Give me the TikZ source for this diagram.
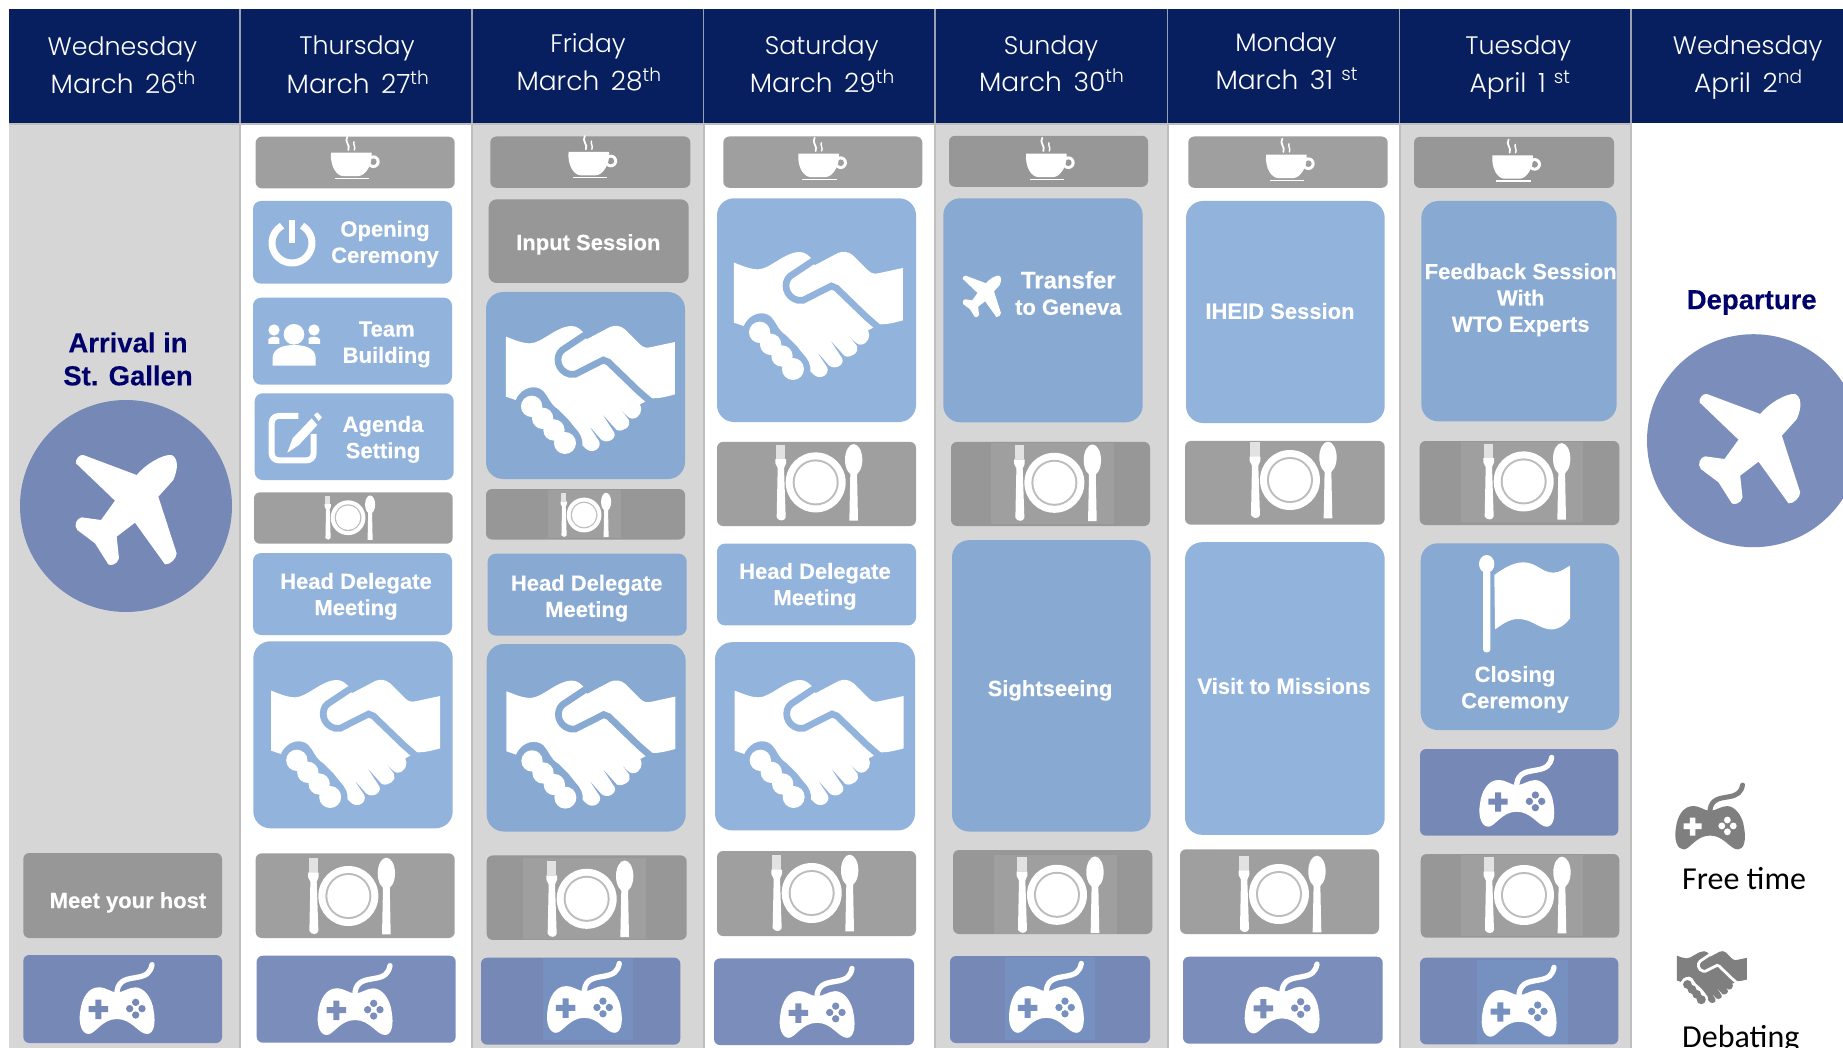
\documentclass[tikz,border=0pt]{standalone}
\usepackage{fontspec}
\setmainfont{Liberation Sans}[BoldFeatures={FakeBold=0.25}]
\newfontfamily\hdrfont{Poppins}[UprightFont=* Light,WordSpace=1.6]
\newfontfamily\lgfont{Carlito}
\definecolor{hdrblue}{HTML}{071F5F}
\definecolor{colgrey}{HTML}{D6D6D6}
\definecolor{seplight}{HTML}{BFBFBF}
\definecolor{sephdr}{HTML}{9AA1B5}
\definecolor{bluW}{HTML}{92B3DB}
\definecolor{bluG}{HTML}{87A9D2}
\definecolor{gryW}{HTML}{9F9F9F}
\definecolor{gryG}{HTML}{979797}
\definecolor{indW}{HTML}{7B8DBB}
\definecolor{indG}{HTML}{7588B6}
\definecolor{patchI}{HTML}{7690C0}
\definecolor{navytxt}{HTML}{00006B}
\definecolor{legend}{HTML}{7F7F7F}
\tikzset{
  smallbox/.style={rectangle,rounded corners=6pt,inner sep=0pt,outer sep=0pt,anchor=north west},
  midbox/.style={rectangle,rounded corners=8pt,inner sep=0pt,outer sep=0pt,anchor=north west},
  bigbox/.style={rectangle,rounded corners=17pt,inner sep=0pt,outer sep=0pt,anchor=north west},
  boxtext/.style={text=white,font=\bfseries\fontsize{22}{26.3}\selectfont,align=center,inner sep=0pt},
  dayname/.style={text=white,font=\hdrfont\fontsize{25.3}{30}\selectfont,anchor=base,inner sep=0pt},
  daydate/.style={text=white,font=\hdrfont\fontsize{26.5}{30}\selectfont,anchor=base,inner sep=0pt},
  navyhead/.style={text=navytxt,font=\bfseries\fontsize{27.5}{33}\selectfont,align=center,inner sep=0pt},
  legendtext/.style={text=black,font=\lgfont\fontsize{32}{36}\selectfont,anchor=base west,inner sep=0pt}
}
% box: name x1 y1 x2 y2 style
\newcommand{\bx}[6]{\pgfmathsetmacro\bxw{#4-#2}\pgfmathsetmacro\bxh{#5-#3}%
  \node[#6,minimum width=\bxw pt,minimum height=\bxh pt] (#1) at (#2,#3) {};}
\newcommand{\tx}[4]{\node[boxtext] (#1) at (#2,#3) {#4};}
\newcommand{\shakeicon}[5]{%
\begin{scope}[shift={(#1,#2)},scale=#3/3,shift={(-346,-342)}]
\fill[#4] (93,182) .. controls (115,190) and (140,202) .. (165,202)
 .. controls (200,202) and (245,150) .. (290,150)
 .. controls (305,150) and (318,160) .. (327,172) -- (335,190) -- (405,153)
 .. controls (420,147) and (435,148) .. (450,160) -- (495,205)
 .. controls (505,215) and (515,217) .. (530,213) -- (600,198) -- (600,355)
 .. controls (575,362) and (550,368) .. (530,367) -- (495,385)
 .. controls (505,400) and (495,428) .. (472,428) .. controls (462,428) and (455,420) .. (425,385)
 -- (462,432) .. controls (470,450) and (445,470) .. (425,462) -- (380,412)
 -- (418,470) .. controls (425,490) and (395,505) .. (378,490) -- (340,447)
 -- (372,495) .. controls (382,515) and (355,535) .. (335,520) -- (322,508)
 .. controls (325,490) and (315,470) .. (300,455) -- (280,430) -- (250,400)
 .. controls (225,385) and (220,360) .. (205,345) .. controls (185,325) and (140,330) .. (122,372)
 -- (93,362) -- cycle;
\draw[#5,line width=#3*6.7pt,line cap=round] (328,178) -- (262,222) .. controls (240,240) and (245,285) .. (285,295)
  -- (300,295) -- (385,252) -- (400,258) -- (490,345) -- (528,378);
\fill[#4] (170,391) circle[radius=32] (203,427) circle[radius=32] (237,462) circle[radius=32]
  (270,501) circle[radius=33];
\end{scope}}
\newcommand{\gameicon}[5]{%
\begin{scope}[shift={(#1,#2)},scale=#3/3,shift={(-350,-452)}]
\fill[#4] (295,420) .. controls (265,420) and (245,450) .. (240,490) .. controls (233,530) and (245,560) .. (265,560)
 .. controls (285,560) and (305,515) .. (350,515) .. controls (395,515) and (415,560) .. (440,560)
 .. controls (460,560) and (467,530) .. (460,490) .. controls (455,450) and (430,420) .. (405,420)
 .. controls (385,420) and (370,435) .. (350,435) .. controls (330,435) and (320,420) .. (295,420) -- cycle;
\draw[#4,line width=#3*5.3pt,line cap=round] (350,432) .. controls (355,395) and (385,395) .. (410,390)
 .. controls (440,385) and (450,375) .. (455,352);
\fill[#5] (265,476) rectangle (323,494) (285,457) rectangle (303,515);
\fill[#5] (406,465) circle[radius=11] (406,503) circle[radius=11] (388,484) circle[radius=11] (425,484) circle[radius=11];
\end{scope}}
\newcommand{\plateicon}[5]{%
\begin{scope}[shift={(#1,#2)},scale=#3/3,shift={(-382,-765)}]
\fill[#4,opacity=.7] (253,652) rectangle (281,695);
\fill[#4] (251,695) -- (283,695) -- (283,708) -- (277,722) -- (282,870) .. controls (279,882) and (261,882) .. (255,870) -- (258,722) -- (251,708) -- cycle;
\fill[#4] (372,765) circle[radius=90];
\fill[#5!70!white] (372,765) circle[radius=69];
\fill[#4] (372,765) circle[radius=63];
\fill[#4] (486,697) ellipse[x radius=26,y radius=47];
\fill[#4] (476,735) -- (496,735) -- (499,880) -- (473,880) -- cycle;
\end{scope}}
\newcommand{\cupicon}[5]{%
\begin{scope}[shift={(#1,#2)},scale=#3/3,shift={(-1065,-470)}]
\fill[#4] (1120,485) circle[radius=19];
\fill[#5] (1120,485) circle[radius=10];
\fill[#4] (993,458) -- (1115,458) .. controls (1118,495) and (1095,528) .. (1075,528) -- (1030,528) .. controls (1010,528) and (990,500) .. (993,458) -- cycle;
\fill[#4] (1005,533) rectangle (1108,537);
\draw[#4,line width=#3*1.8pt,line cap=round] (1042,410) .. controls (1032,425) and (1052,435) .. (1045,450);
\draw[#4,line width=#3*1.4pt,line cap=round] (1062,425) .. controls (1058,433) and (1068,440) .. (1063,450);
\end{scope}}
\newcommand{\planeicon}[4]{%
\begin{scope}[shift={(#1,#2)},scale=#3/3,shift={(-378,-378)}]
\fill[#4] (228,250) .. controls (225,240) and (238,222) .. (250,225) -- (410,285)
 .. controls (440,250) and (490,222) .. (515,225) .. controls (535,235) and (535,265) .. (520,300)
 -- (475,350) -- (530,520) .. controls (530,535) and (510,555) .. (495,553) -- (405,428)
 -- (350,470) -- (357,535) .. controls (352,555) and (330,558) .. (325,553) -- (285,490)
 -- (232,450) .. controls (220,435) and (230,415) .. (245,412) -- (303,420) -- (345,362) -- cycle;
\end{scope}}
\begin{document}
\begin{tikzpicture}[x=1pt,y=-1pt]
\useasboundingbox (0,0) rectangle (1843,1048);
\clip (0,0) rectangle (1843,1048);
\fill[white] (0,0) rectangle (1843,1048);
% column grounds
\fill[colgrey] (9,123) rectangle (240,1048);
\fill[colgrey] (472,123) rectangle (703,1048);
\fill[colgrey] (935,123) rectangle (1167,1048);
\fill[colgrey] (1399,123) rectangle (1631,1048);
\fill[seplight] (9,123) rectangle (1631,125.5);
\foreach \sx in {240,471.7,703.5,935,1167.5,1399.5,1631}{\draw[seplight,line width=2pt] (\sx,123) -- (\sx,1048);}
% header band
\fill[hdrblue] (9,9) rectangle (1843,123);
\foreach \sx in {240,471.7,703.5,935,1167.5,1399.5,1631}{\draw[sephdr,line width=1.6pt] (\sx,9) -- (\sx,123);}
% header texts
\node[dayname] (d1a) at (122.5,55.5) {Wednesday};
\node[daydate] (d1b) at (123.3,93.7) {March 26\textsuperscript{th}};
\node[dayname] (d2a) at (357,54.5) {Thursday};
\node[daydate] (d2b) at (358,93.7) {March 27\textsuperscript{th}};
\node[dayname] (d3a) at (588,52.7) {Friday};
\node[daydate] (d3b) at (589,91) {March 28\textsuperscript{th}};
\node[dayname] (d4a) at (821.7,54.5) {Saturday};
\node[daydate] (d4b) at (822.3,93) {March 29\textsuperscript{th}};
\node[dayname] (d5a) at (1051,54.5) {Sunday};
\node[daydate] (d5b) at (1051.7,92) {March 30\textsuperscript{th}};
\node[dayname] (d6a) at (1286,52) {Monday};
\node[daydate] (d6b) at (1286.7,89.4) {March 31\textsuperscript{ st}};
\node[dayname] (d7a) at (1518.3,54.5) {Tuesday};
\node[daydate] (d7b) at (1520,93) {April 1\textsuperscript{ st}};
\node[dayname] (d8a) at (1747.7,54.5) {Wednesday};
\node[daydate] (d8b) at (1748.3,93) {April 2\textsuperscript{nd}};
% column 1
\node[navyhead] (arrive) at (128,359) {Arrival in\\St. Gallen};
\fill[indG] (126,506) circle[radius=106];
\planeicon{126}{506}{1}{white}
\bx{host}{23.3}{853}{222}{938}{smallbox,fill=gryG}
\tx{hosttxt}{128}{902.4}{Meet your host}
\bx{c1g}{23.3}{955}{222}{1043}{smallbox,fill=indG}
\gameicon{117}{998}{1}{white}{indG}
% column 2
\bx{c2cup}{255.7}{136.7}{454.7}{188.3}{smallbox,fill=gryW}
\cupicon{355}{156.7}{1}{white}{gryW}
\bx{open}{253}{201}{452}{283.7}{midbox,fill=bluW}
\draw[white,line width=7pt] (302,225.7) arc[start angle=-60,end angle=240,radius=20];
\draw[white,line width=6.7pt] (292,220) -- (292,243);
\tx{opentxt}{385}{244}{Opening\\Ceremony}
\bx{team}{253}{297.7}{452}{384.7}{midbox,fill=bluW}
\begin{scope}[scale=1/3]
\fill[white] (882,1003) circle[radius=31];
\fill[white] (818,1097) -- (818,1072) .. controls (820,1045) and (850,1035) .. (882,1035) .. controls (915,1035) and (945,1045) .. (947,1072) -- (947,1097) -- cycle;
\fill[white] (822,990) circle[radius=17] (942,990) circle[radius=17];
\fill[white] (805,1032) -- (805,1018) .. controls (810,1008) and (835,1008) .. (838,1015) -- (838,1032) -- cycle;
\fill[white] (926,1015) .. controls (930,1008) and (955,1008) .. (960,1018) -- (960,1032) -- (926,1032) -- cycle;
\end{scope}
\tx{teamtxt}{386.7}{344.4}{Team\\Building}
\bx{agenda}{254.7}{393.3}{453.7}{480}{midbox,fill=bluW}
\begin{scope}[scale=1/3]
\draw[white,line width=6pt,rounded corners=7pt] (895,1248) -- (815,1248) -- (815,1381) -- (941,1381) -- (941,1302);
\fill[white] (862,1358) -- (878,1315) -- (935,1255) -- (952,1275) -- (897,1335) -- cycle;
\fill[white] (942,1245) -- (952,1237) -- (966,1252) -- (956,1263) -- cycle;
\end{scope}
\tx{agendatxt}{383}{439.4}{Agenda\\Setting}
\bx{c2pl1}{254}{492.3}{452.7}{543.7}{smallbox,fill=gryW}
\plateicon{350}{517.7}{.58}{white}{gryW}
\bx{c2hd}{253}{553}{452}{635}{midbox,fill=bluW}
\tx{c2hdtxt}{356}{596.4}{Head Delegate\\Meeting}
\bx{c2sh}{253.3}{641.3}{452.7}{828.3}{bigbox,fill=bluW}
\shakeicon{355.5}{744}{1}{white}{bluW}
\bx{c2pl2}{255.7}{853.3}{454.7}{938}{smallbox,fill=gryW}
\plateicon{351.7}{896}{1}{white}{gryW}
\bx{c2g}{256.7}{955.7}{455.7}{1042.7}{smallbox,fill=indW}
\gameicon{355}{999}{1}{white}{indW}
% column 3
\bx{c3cup}{490.3}{136.5}{690.3}{187.8}{smallbox,fill=gryG}
\cupicon{592.5}{156}{1}{white}{gryG}
\bx{c3in}{488.7}{199.3}{688.7}{283}{midbox,fill=gryG}
\tx{c3intxt}{588.3}{244.4}{Input Session}
\bx{c3sh}{486}{292}{685}{479}{bigbox,fill=bluG}
\shakeicon{590.3}{390}{1}{white}{bluG}
\bx{c3pl1}{486}{489}{685}{539.5}{smallbox,fill=gryG}
\fill[gryW] (548,490) rectangle (620.7,538);
\plateicon{586}{515}{.58}{white}{gryW}
\bx{c3hd}{487.7}{553.7}{686.7}{635.5}{midbox,fill=bluG}
\tx{c3hdtxt}{586.7}{598.2}{Head Delegate\\Meeting}
\bx{c3sh2}{486.7}{644}{685.7}{831.5}{bigbox,fill=bluG}
\shakeicon{590.7}{744.6}{1}{white}{bluG}
\bx{c3pl2}{486.7}{855.4}{686.7}{939.9}{smallbox,fill=gryG}
\fill[gryW] (523.3,858) rectangle (646,939);
\plateicon{590}{898.8}{1}{white}{gryW}
\bx{c3g}{481}{957.7}{680.3}{1044.6}{smallbox,fill=indG}
\fill[patchI] (543.3,957.7) rectangle (633.3,1040);
\gameicon{584.3}{996.8}{1}{white}{patchI}
% column 4
\bx{c4cup}{723.3}{136.5}{922.3}{187.8}{smallbox,fill=gryW}
\cupicon{822.3}{157.7}{1}{white}{gryW}
\bx{c4sh}{717}{198.3}{916}{422}{bigbox,fill=bluW}
\shakeicon{818.3}{316}{1}{white}{bluW}
\bx{c4pl1}{717}{441.9}{916}{526}{smallbox,fill=gryW}
\plateicon{819}{482.4}{1}{white}{gryW}
\bx{c4hd}{717}{543.6}{916}{625.4}{midbox,fill=bluW}
\tx{c4hdtxt}{815}{586.4}{Head Delegate\\Meeting}
\bx{c4sh2}{715}{642.2}{915}{830.4}{bigbox,fill=bluW}
\shakeicon{819}{744}{1}{white}{bluW}
\bx{c4pl2}{717}{851}{916}{936}{smallbox,fill=gryW}
\plateicon{815}{893}{1}{white}{gryW}
\bx{c4g}{714}{958.4}{914}{1045}{smallbox,fill=indW}
\gameicon{817}{1001.8}{1}{white}{indW}
% column 5
\bx{c5cup}{949}{135.8}{1148}{186.8}{smallbox,fill=gryG}
\cupicon{1050}{157.7}{1}{white}{gryG}
\bx{c5tr}{943.3}{198.3}{1142.7}{422.3}{bigbox,fill=bluG}
\planeicon{981.7}{295}{.38}{white}
\tx{c5trtxt}{1068.3}{293}{\fontsize{24}{27.5}\selectfont Transfer\\to Geneva}
\bx{c5pl1}{951}{441.9}{1150}{526}{smallbox,fill=gryG}
\fill[gryW] (991,443) rectangle (1114,524);
\plateicon{1057.7}{482.8}{1}{white}{gryW}
\bx{c5si}{952}{540.2}{1150.7}{831.5}{bigbox,fill=bluG}
\tx{c5sitxt}{1050}{690.4}{Sightseeing}
\bx{c5pl2}{953}{850}{1152.3}{934}{smallbox,fill=gryG}
\fill[gryW] (994,855) rectangle (1116.7,934);
\plateicon{1060.3}{894.8}{1}{white}{gryW}
\bx{c5g}{950}{956}{1150}{1043}{smallbox,fill=indG}
\fill[patchI] (1005,957) rectangle (1095,1040);
\gameicon{1046.3}{996.8}{1}{white}{patchI}
% column 6
\bx{c6cup}{1188.3}{136.5}{1387.7}{187.8}{smallbox,fill=gryW}
\cupicon{1290}{158.7}{1}{white}{gryW}
\bx{c6ih}{1186}{201}{1384.7}{423}{bigbox,fill=bluW}
\tx{c6ihtxt}{1280}{311}{IHEID Session}
\bx{c6pl1}{1185}{440.9}{1384.7}{524.7}{smallbox,fill=gryW}
\plateicon{1293.3}{480}{1}{white}{gryW}
\bx{c6vi}{1185}{542.2}{1384.7}{834.8}{bigbox,fill=bluW}
\tx{c6vitxt}{1284}{686}{Visit to Missions}
\bx{c6pl2}{1180}{849.3}{1379}{934}{smallbox,fill=gryW}
\plateicon{1282.3}{894}{1}{white}{gryW}
\bx{c6g}{1183}{956.7}{1382.7}{1043.6}{smallbox,fill=indW}
\gameicon{1282}{997.4}{1}{white}{indW}
% column 7
\bx{c7cup}{1414}{136.8}{1614}{187.9}{smallbox,fill=gryG}
\cupicon{1516.3}{159.4}{1}{white}{gryG}
\bx{c7fb}{1421.3}{201}{1616.7}{421.4}{bigbox,fill=bluG}
\tx{c7fbtxt}{1520.7}{299.8}{\fontsize{22}{27}\selectfont Feedback Session\\With\\WTO Experts}
\bx{c7pl1}{1419.7}{441}{1619.3}{525}{smallbox,fill=gryG}
\fill[gryW] (1460.7,442) rectangle (1582.7,522);
\plateicon{1527}{481.4}{1}{white}{gryW}
\bx{c7cl}{1420.7}{543.3}{1619.3}{730}{bigbox,fill=bluG}
\begin{scope}[shift={(1390,520)},scale=1/3]
\fill[white] (290,132) ellipse[x radius=23,y radius=27];
\fill[white,rounded corners=3pt] (279,150) rectangle (301,397);
\fill[white] (313,165) .. controls (340,145) and (370,127) .. (400,127) .. controls (440,127) and (455,158) .. (490,158)
 .. controls (510,158) and (525,145) .. (540,137) -- (540,295) .. controls (525,315) and (505,330) .. (480,328)
 .. controls (445,325) and (425,297) .. (385,297) .. controls (355,297) and (335,315) .. (315,328) -- cycle;
\end{scope}
\tx{c7cltxt}{1515}{689.4}{Closing\\Ceremony}
\bx{c7g1}{1420}{749}{1618.3}{835.7}{smallbox,fill=indG}
\gameicon{1516.7}{790.7}{1}{white}{indG}
\bx{c7pl2}{1420.7}{854}{1619.3}{937.7}{smallbox,fill=gryG}
\fill[gryW] (1461,855) rectangle (1583.3,936);
\plateicon{1527.3}{895}{1}{white}{gryW}
\bx{c7g2}{1420}{957.7}{1618.3}{1044.3}{smallbox,fill=indG}
\fill[patchI] (1476.7,960) rectangle (1568.3,1044);
\gameicon{1519}{1000.7}{1}{white}{patchI}
% column 8
\node[navyhead] (depart) at (1751.7,302.5) {Departure};
\fill[indW] (1753.5,440.7) circle[radius=106.5];
\planeicon{1749.5}{445}{1}{white}
\gameicon{1710}{816}{.93}{legend}{white}
\node[legendtext] (freetime) at (1682,889) {Free time};
\shakeicon{1711.7}{977.7}{.414}{legend}{white}
\node[legendtext] (debating) at (1682,1047) {Debating};
\end{tikzpicture}
\end{document}
